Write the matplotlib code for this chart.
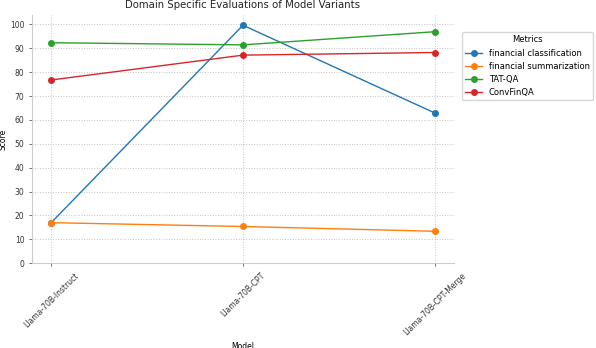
import matplotlib
matplotlib.use("Agg")
import matplotlib.pyplot as plt

# Models on the x axis and the score of each metric
models = ['Llama-70B-Instruct', 'Llama-70B-CPT', 'Llama-70B-CPT-Merge']
fin_class = [17.0, 99.6, 62.9]
fin_summ = [17.0, 15.4, 13.4]
tat_qa = [92.3, 91.4, 96.9]
convfinqa = [76.7, 87.1, 88.2]

series = {
    'financial classification': fin_class,
    'financial summarization': fin_summ,
    'TAT-QA': tat_qa,
    'ConvFinQA': convfinqa,
}

fig = plt.figure(figsize=(5.96, 3.48), dpi=100)
ax = fig.add_axes([0.0537, 0.2434, 0.708, 0.7136])

for name, vals in series.items():
    ax.plot(models, vals, marker='o', markersize=4, linewidth=1, label=name)

ax.set_ylim(0, None)
ax.set_yticks(range(0, 101, 10))
ax.grid(True, linestyle=':', color='#c4c4c4', linewidth=0.7)
ax.set_axisbelow(True)
for s in ['top', 'right']:
    ax.spines[s].set_visible(False)
for s in ['left', 'bottom']:
    ax.spines[s].set_color('#cccccc')

ax.set_title('Domain Specific Evaluations of Model Variants', fontsize=7.3, color='#222222', pad=5)
ax.set_xlabel('Model', fontsize=5.5)
ax.set_ylabel('Score', fontsize=5.5, labelpad=1.5)
ax.tick_params(axis='both', labelsize=5.5, colors='#333333', length=2, width=0.5)
plt.setp(ax.get_xticklabels(), rotation=45)

leg = ax.legend(title='Metrics', loc='upper left', bbox_to_anchor=(1.019, 0.931),
                borderaxespad=0, fontsize=6, title_fontsize=6, frameon=True)
leg.get_frame().set_edgecolor('#cccccc')

fig.savefig('out.png', dpi=100)
